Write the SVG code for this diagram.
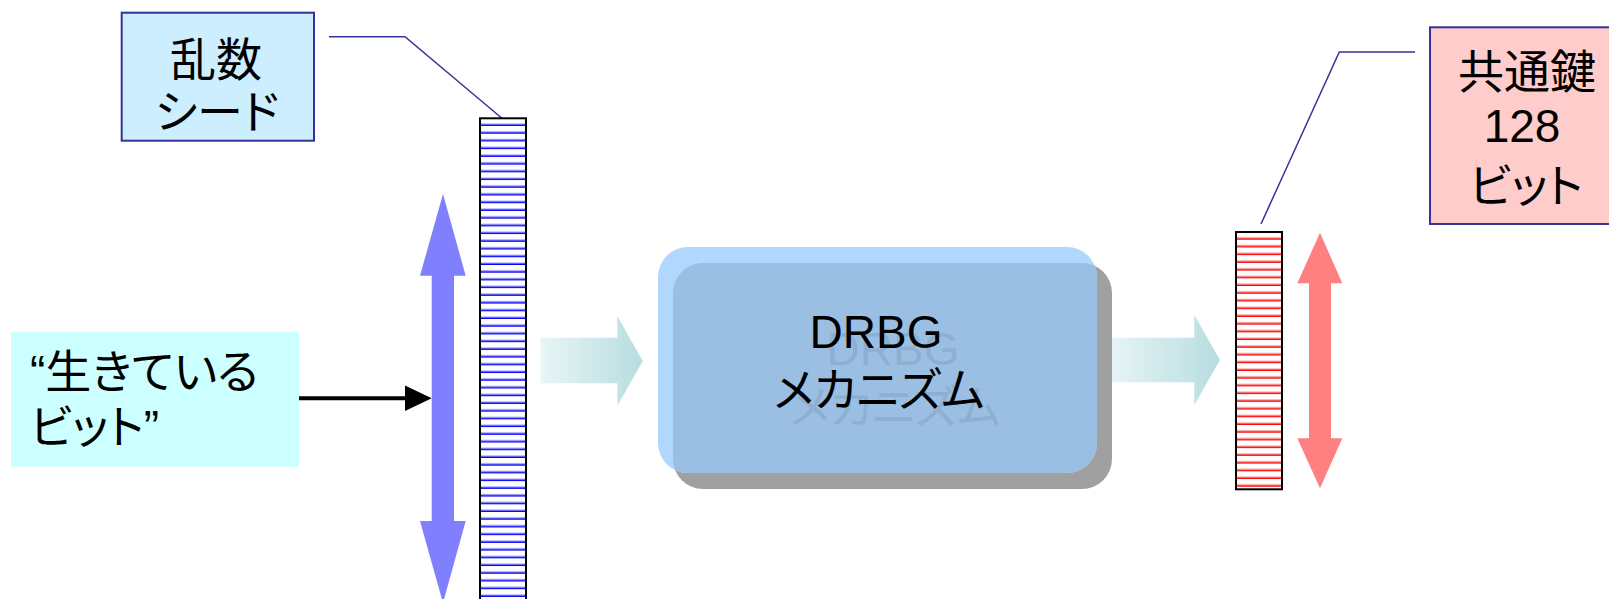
<svg xmlns="http://www.w3.org/2000/svg" width="1609" height="599" viewBox="0 0 1609 599">
  <style>
    .t { font-family: "Liberation Sans", "Noto Sans CJK JP", sans-serif; font-size: 46px; fill: #000; font-feature-settings: "palt"; }
    .mid { text-anchor: middle; }
    .leader { fill: none; stroke: #333399; stroke-width: 1.5; }
    .label-border { stroke: #333399; stroke-width: 2; }
  </style>
  <defs>
    <!-- striped register fill: one thin coloured rule per bit row -->
    <pattern id="stripeBlue" patternUnits="userSpaceOnUse" x="480" y="118.3" width="46" height="7.72">
      <rect x="0" y="0" width="46" height="7.72" fill="#fff"/>
      <rect x="0" y="5" width="46" height="1.2" fill="#B8B8F4"/>
      <rect x="0" y="6.2" width="46" height="1.5" fill="#0000FF"/>
    </pattern>
    <pattern id="stripeRed" patternUnits="userSpaceOnUse" x="1236" y="232" width="46" height="7.72">
      <rect x="0" y="0" width="46" height="7.72" fill="#fff"/>
      <rect x="0" y="5" width="46" height="1.2" fill="#F4B8B8"/>
      <rect x="0" y="6.2" width="46" height="1.5" fill="#FF0000"/>
    </pattern>
    <linearGradient id="flow" x1="0" y1="0" x2="1" y2="0">
      <stop offset="0" stop-color="#E8F5F6"/>
      <stop offset="1" stop-color="#B7DDE0"/>
    </linearGradient>
    <clipPath id="drbgClip">
      <rect x="658" y="247" width="439" height="226" rx="30"/>
    </clipPath>
  </defs>

  <!-- flow connectors and arrows -->
  <g id="connectors">
    <polyline class="leader" points="329,36.7 405,36.7 504,120"/>
    <polyline class="leader" points="1415,52 1339.3,52 1261,224"/>
    <!-- live bits into the seed -->
    <line x1="298" y1="398.3" x2="408" y2="398.3" stroke="#000" stroke-width="4"/>
    <polygon points="405,385.5 431.7,398.3 405,411.1" fill="#000"/>
    <!-- seed extent -->
    <polygon points="443,194 465.7,275.7 454,275.7 454,521 465.7,521 443,603 420,521 431.7,521 431.7,275.7 420,275.7" fill="#8080FF"/>
    <!-- key extent -->
    <polygon points="1320,232.7 1342.3,283.3 1331,283.3 1331,438.3 1342.3,438.3 1320,488.3 1297.3,438.3 1309,438.3 1309,283.3 1297.3,283.3" fill="#FF8080"/>
    <!-- data flow through the DRBG -->
    <polygon points="540.7,337.7 617.3,337.7 617.3,316 642.7,361 617.3,406 617.3,383.3 540.7,383.3" fill="url(#flow)"/>
    <polygon points="1108,337.7 1194.3,337.7 1194.3,315 1220,360 1194.3,405 1194.3,382.3 1108,382.3" fill="url(#flow)"/>
  </g>

  <g id="seed-label">
    <rect class="label-border" x="121.7" y="12.7" width="192.3" height="128" fill="#CCEEFF"/>
    <text class="t mid" x="216" y="76">乱数</text>
    <text class="t mid" x="217" y="128">シード</text>
  </g>

  <g id="live-bits">
    <rect x="11" y="331.7" width="288" height="135" fill="#CCFFFF"/>
    <text class="t" x="30" y="388">“生きている</text>
    <text class="t" x="30" y="443">ビット”</text>
  </g>

  <g id="seed-register">
    <rect x="480" y="118.3" width="46" height="500" fill="url(#stripeBlue)" stroke="#000" stroke-width="2"/>
  </g>

  <g id="drbg">
    <!-- drop shadow, body, and the body tinted where the shadow shows through -->
    <rect x="673" y="263" width="439" height="226" rx="30" fill="#A0A0A0"/>
    <rect x="658" y="247" width="439" height="226" rx="30" fill="#B2D7FF"/>
    <rect x="673" y="263" width="439" height="226" rx="30" fill="#9BBFE3" clip-path="url(#drbgClip)"/>
    <g opacity="0.08">
      <text class="t mid" x="893" y="365">DRBG</text>
      <text class="t mid" x="895" y="423">メカニズム</text>
    </g>
    <text class="t mid" x="876" y="348">DRBG</text>
    <text class="t mid" x="879" y="406">メカニズム</text>
  </g>

  <g id="key-register">
    <rect x="1236" y="232" width="46" height="257.3" fill="url(#stripeRed)" stroke="#000" stroke-width="2"/>
  </g>

  <g id="key-label">
    <rect class="label-border" x="1430" y="27.3" width="190" height="196.7" fill="#FFCCCC"/>
    <text class="t mid" x="1527" y="88">共通鍵</text>
    <text class="t mid" x="1522" y="141.5">128</text>
    <text class="t mid" x="1526" y="202">ビット</text>
  </g>
</svg>
